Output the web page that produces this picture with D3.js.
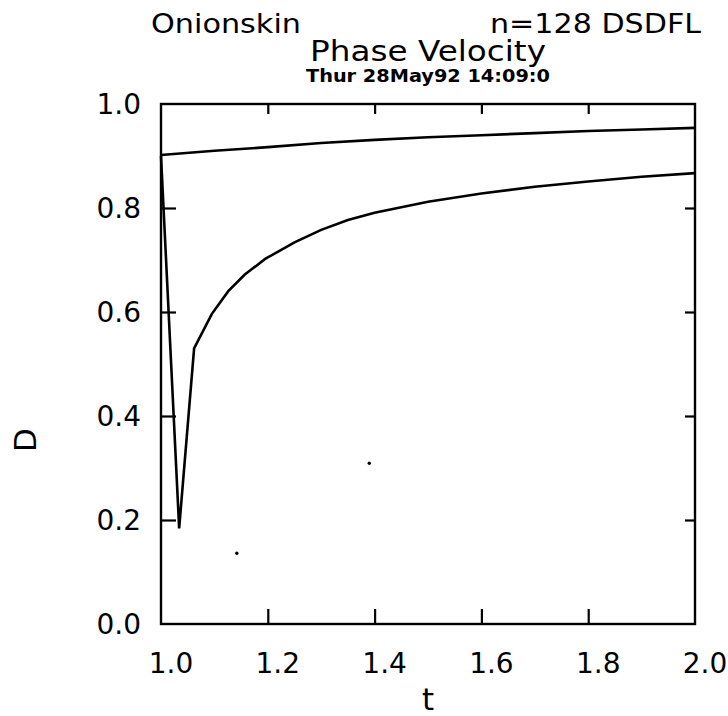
<!DOCTYPE html>
<html>
<head>
<meta charset="utf-8">
<script src="https://cdn.jsdelivr.net/npm/d3@7"></script>
<style>
  html, body { margin: 0; padding: 0; background: #fff; }
  svg { display: block; }
  text { font-family: "DejaVu Sans", sans-serif; fill: #000; }
</style>
</head>
<body>
<svg id="chart" width="728" height="716"></svg>
<script>
// ---- data ----
const upperT = [1.0, 1.1, 1.2, 1.3, 1.4, 1.5, 1.6, 1.7, 1.8, 1.9, 2.0];
const upperD = [0.902, 0.910, 0.917, 0.925, 0.931, 0.936, 0.940, 0.944, 0.948, 0.951, 0.954];

const lowerT = [1.000, 1.034, 1.062, 1.095, 1.126, 1.157, 1.195, 1.25, 1.30, 1.35, 1.40, 1.50, 1.60, 1.70, 1.80, 1.90, 2.00];
const lowerD = [0.900, 0.184, 0.530, 0.596, 0.640, 0.672, 0.702, 0.734, 0.758, 0.777, 0.791, 0.812, 0.828, 0.841, 0.851, 0.860, 0.867];

const speckT = [1.390, 1.142];
const speckD = [0.309, 0.136];

const xTicks = [1.0, 1.2, 1.4, 1.6, 1.8, 2.0];
const yTicks = [0.0, 0.2, 0.4, 0.6, 0.8, 1.0];

const titleLeft = "Onionskin";
const titleRight = "n=128 DSDFL";
const titleMain = "Phase Velocity";
const titleDate = "Thur 28May92  14:09:0";
const xLabel = "t";
const yLabel = "D";

// ---- layout ----
const svg = d3.select("#chart");
const L = 161, R = 695, T = 104, B = 624;

const x = d3.scaleLinear().domain([1.0, 2.0]).range([L, R]);
const y = d3.scaleLinear().domain([0.0, 1.0]).range([B, T]);

const fmt = d3.format(".1f");

// frame
svg.append("rect")
  .attr("x", L).attr("y", T).attr("width", R - L).attr("height", B - T)
  .attr("fill", "none").attr("stroke", "#000").attr("stroke-width", 2.4);

// axes with inward ticks
const inner = xTicks.slice(1, -1);
const innerY = yTicks.slice(1, -1);

const gB = svg.append("g").attr("transform", `translate(0,${B})`)
  .call(d3.axisTop(x).tickValues(inner).tickSize(15).tickFormat(""));
const gT = svg.append("g").attr("transform", `translate(0,${T})`)
  .call(d3.axisBottom(x).tickValues(inner).tickSize(10).tickFormat(""));
const gL = svg.append("g").attr("transform", `translate(${L},0)`)
  .call(d3.axisRight(y).tickValues(innerY).tickSize(15).tickFormat(""));
const gR = svg.append("g").attr("transform", `translate(${R},0)`)
  .call(d3.axisLeft(y).tickValues(innerY).tickSize(10).tickFormat(""));
[gB, gT, gL, gR].forEach(g => {
  g.select(".domain").remove();
  g.selectAll(".tick line").attr("stroke", "#000").attr("stroke-width", 2.2);
});

// tick labels
svg.append("g").selectAll("text").data(xTicks).join("text")
  .attr("x", d => x(d) + 10).attr("y", 673)
  .attr("text-anchor", "middle")
  .attr("font-size", 28)
  .text(d => fmt(d));

svg.append("g").selectAll("text").data(yTicks).join("text")
  .attr("x", 141).attr("y", d => y(d) + 10)
  .attr("text-anchor", "end")
  .attr("font-size", 28)
  .text(d => fmt(d));

// axis titles
svg.append("text").attr("x", 428).attr("y", 710)
  .attr("text-anchor", "middle").attr("font-size", 31).text(xLabel);
svg.append("text")
  .attr("transform", `translate(36,440) rotate(-90)`)
  .attr("text-anchor", "middle").attr("font-size", 31).text(yLabel);

// titles
svg.append("text").attr("x", 151).attr("y", 33)
  .attr("font-size", 27).attr("textLength", 150).attr("lengthAdjust", "spacingAndGlyphs")
  .text(titleLeft);
svg.append("text").attr("x", 490).attr("y", 33)
  .attr("font-size", 27).attr("textLength", 211).attr("lengthAdjust", "spacingAndGlyphs")
  .text(titleRight);
svg.append("text").attr("x", 428).attr("y", 61)
  .attr("text-anchor", "middle")
  .attr("font-size", 28).attr("textLength", 236).attr("lengthAdjust", "spacingAndGlyphs")
  .text(titleMain);
svg.append("text").attr("x", 428).attr("y", 82)
  .attr("text-anchor", "middle")
  .attr("font-size", 17).attr("font-weight", "bold")
  .attr("textLength", 244).attr("lengthAdjust", "spacingAndGlyphs")
  .text(titleDate);

// curves
const line = d3.line().x(d => x(d[0])).y(d => y(d[1])).curve(d3.curveLinear);
const upper = upperT.map((t, i) => [t, upperD[i]]);
const lower = lowerT.map((t, i) => [t, lowerD[i]]);

svg.append("path").datum(upper).attr("d", line)
  .attr("fill", "none").attr("stroke", "#000").attr("stroke-width", 2.6)
  .attr("stroke-linejoin", "round");
svg.append("path").datum(lower).attr("d", line)
  .attr("fill", "none").attr("stroke", "#000").attr("stroke-width", 2.6)
  .attr("stroke-linejoin", "miter");

// scan specks
svg.append("g").selectAll("circle").data(speckT).join("circle")
  .attr("cx", d => x(d)).attr("cy", (d, i) => y(speckD[i])).attr("r", 1.7)
  .attr("fill", "#000");
</script>
</body>
</html>
